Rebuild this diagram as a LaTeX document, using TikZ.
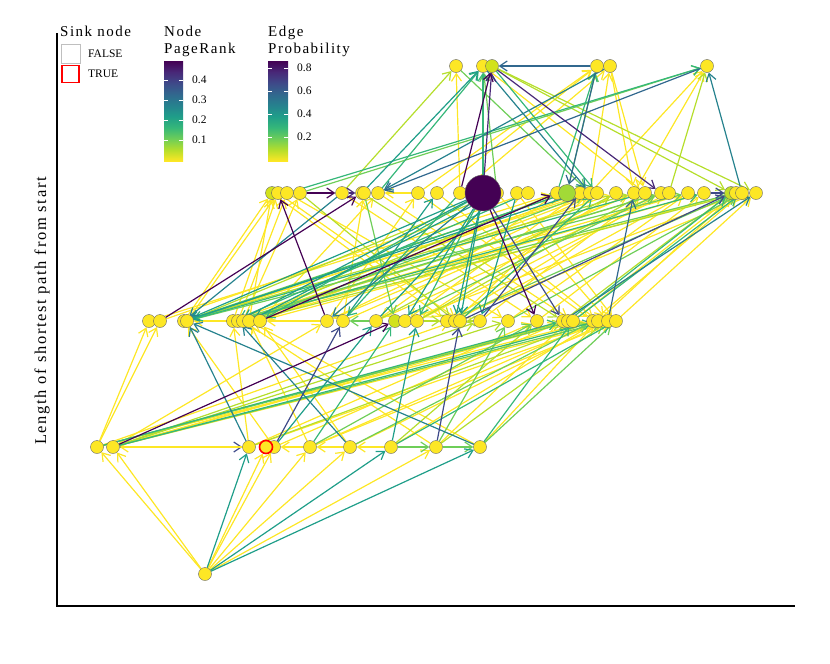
\documentclass[tikz,border=0pt]{standalone}
\usepackage{fontspec}
\setmainfont{Liberation Serif}
\newfontfamily\spacedfont[LetterSpace=10]{Liberation Serif}
\usetikzlibrary{arrows.meta}
\definecolor{vA}{HTML}{440154}
\definecolor{vB}{HTML}{482878}
\definecolor{vC}{HTML}{3E4A89}
\definecolor{vD}{HTML}{31688E}
\definecolor{vE}{HTML}{26828E}
\definecolor{vF}{HTML}{1F9E89}
\definecolor{vG}{HTML}{35B779}
\definecolor{vH}{HTML}{6ECE58}
\definecolor{vI}{HTML}{B5DE2B}
\definecolor{vJ}{HTML}{FDE725}
\definecolor{vK}{HTML}{D2E21B}
\definecolor{vL}{HTML}{A2DA37}
\definecolor{vM}{HTML}{C0DF25}
\pgfdeclareverticalshading{viridis}{100bp}{color(0bp)=(vJ); color(25bp)=(vJ); color(30.56bp)=(vI); color(36.11bp)=(vH); color(41.67bp)=(vG); color(47.22bp)=(vF); color(52.78bp)=(vE); color(58.33bp)=(vD); color(63.89bp)=(vC); color(69.44bp)=(vB); color(75bp)=(vA); color(100bp)=(vA)}
\pgfdeclarelayer{edgelayer}
\pgfsetlayers{edgelayer,main}
\begin{document}
\begin{tikzpicture}[x=1pt,y=-1pt,
    vtx/.style={circle,draw=black!60,line width=0.4pt,fill=vJ,minimum size=13pt,inner sep=0pt},
    link/.style={line width=1.2pt,-{Straight Barb[length=7.5pt,width=10pt]}},
    cbtick/.style={white,line width=0.6pt},
    ttl/.style={anchor=base west,inner sep=0pt,font=\spacedfont\fontsize{15}{18}\selectfont},
    lbl/.style={anchor=west,inner sep=0pt,font=\fontsize{11.5}{13}\selectfont}]
  \useasboundingbox (0,0) rectangle (830,664);
  % axes
  \draw[line width=1.2pt] (57,33) -- (57,606) -- (795,606);
  \node[rotate=90,font=\spacedfont\fontsize{16.5}{19}\selectfont] (ylab) at (42,311) {Length of shortest path from start};
  % nodes
  \node[vtx] (s) at (205,574) {};
  \foreach \n/\x in {a1/97,a2/113,a3/249,a5/274,a6/310,a7/350,a8/391,a9/436,a10/480}
    \node[vtx] (\n) at (\x,447) {};
  \node[vtx,draw=red,line width=1.6pt] (a4) at (266,447) {};
  \foreach \n/\x/\f in {b1/149/vJ,b2/160/vJ,b3/184/vJ,b4/187/vJ,b5/233/vJ,b6/238/vJ,b7/243/vJ,b8/249/vJ,b9/260/vJ,
      b10/327/vJ,b11/343/vJ,b12/376/vJ,b13/395/vK,b14/405/vJ,b15/417/vJ,b16/447/vJ,b17/455/vJ,b18/460/vJ,b19/480/vJ,
      b20/508/vJ,b21/537/vJ,b22/563/vJ,b23/568/vJ,b24/573/vJ,b25/593/vJ,b26/598/vJ,b27/608/vJ,b28/616/vJ}
    \node[vtx,fill=\f] (\n) at (\x,321) {};
  \foreach \n/\x/\f in {c1/272/vK,c2/278/vJ,c3/287/vJ,c4/300/vJ,c5/342/vJ,c6/362/vJ,c7/364/vJ,c8/378/vJ,c9/418/vJ,
      c10/437/vJ,c11/460/vJ,c13/497/vJ,c14/517/vJ,c15/528/vJ,c16/557/vJ,c18/580/vJ,c19/590/vJ,c20/597/vJ,
      c21/616/vJ,c22/634/vJ,c23/645/vJ,c24/661/vJ,c25/669/vJ,c26/688/vJ,c27/704/vJ,c28/731/vM,c29/736/vJ,c30/742/vJ,c31/756/vJ}
    \node[vtx,fill=\f] (\n) at (\x,193) {};
  \node[vtx,fill=vA,minimum size=36pt] (c12) at (483,193) {};
  \node[vtx,fill=vL,minimum size=17pt] (c17) at (567,193) {};
  \foreach \n/\x/\f in {d1/456/vJ,d2/483/vJ,d3/492/vK,d4/597/vJ,d5/610/vJ,d6/707/vJ}
    \node[vtx,fill=\f] (\n) at (\x,66) {};
  % edges, low probability first
  \begin{pgfonlayer}{edgelayer}
  \draw[link,vC] (a2) -- (a3);
  \foreach \u/\v in {s/a1,s/a2,s/a4,s/a5,s/a6,s/a7,s/a9,a3/a2,a6/a5,a7/a6,a8/a7,
      a1/b1,a1/b2,a1/b17,a2/b10,a2/b24,a2/b28,a3/b5,a3/b21,a5/b3,a5/b22,a6/b8,a6/b26,a7/b9,a7/b27,
      a9/b7,a10/b8,a1/b25,a2/b22,a3/b27,a6/b28,a8/b26,a9/b23,a10/b26,b9/b4,b10/b9,
      b3/c1,b4/c2,b5/c2,b6/c3,b7/c4,b8/c1,b9/c8,b10/c9,b11/c7,b5/c18,b6/c21,b7/c26,b8/c27,b9/c29,
      b10/c20,b11/c22,b12/c24,b14/c30,b15/c25,b16/c31,b17/c19,b19/c23,b20/c26,b21/c27,b24/c29,
      b25/c30,b28/c31,b26/c29,b3/c20,b1/c16,b2/c15,b4/c19,
      c1/b16,c2/b18,c3/b20,c5/b21,c8/b24,c9/b25,c10/b26,c13/b27,c14/b28,c16/b12,c18/b14,c21/b15,
      c24/b16,c26/b17,c22/b10,c20/b9,c9/c8,c15/c14,
      c11/d1,c9/d4,c10/d4,c11/d5,c19/d5,c19/d6,c22/d6,d5/c22,d5/c23,d2/c23}
    \draw[link,vJ] (\u) -- (\v);
  \foreach \u/\v in {a1/b23,a2/b19,a3/b25,a9/b27,a8/b21,a2/b20,b15/b16,b19/b18,
      b4/c13,b7/c16,b12/c21,b22/c28,c4/b17,b15/c23,c6/b22,b6/c24,b3/c22,b8/c30,
      c5/d1,d3/c28,d3/c31,c25/d6}
    \draw[link,vI] (\u) -- (\v);
  \foreach \u/\v in {a2/b27,a9/b20,a6/b21,a7/b25,a10/b28,a8/a9,a9/a10,a1/b24,b12/b11,
      b3/c17,b8/c19,b13/c24,b16/c29,c7/b13,b20/c30,b5/c29,b5/c24,b4/c26,
      c13/d2,c4/d6,c17/d4,d1/c19}
    \draw[link,vH] (\u) -- (\v);
  \foreach \u/\v in {a6/b13,a2/b26,a1/b22,a8/b28,a10/b24,
      c15/b5,c17/b4,b23/c28,c11/b11,b18/c20,b4/c23,c19/c17,b24/c30,b6/c27,c12/b9,c12/b15,
      c8/d2,c12/d2,c16/d4,d3/c20,c3/d6}
    \draw[link,vG] (\u) -- (\v);
  \foreach \u/\v in {s/a3,s/a8,s/a10,a5/b12,a8/b15,
      c18/b3,c13/b8,c12/b6,c12/b14,c12/b17,c12/b3,c12/b18,b12/c13,b11/c10,c14/b19,c6/d2}
    \draw[link,vF] (\u) -- (\v);
  \foreach \u/\v in {a10/b4,a3/b4,a7/b6,c12/b10,c5/b3,b22/c31,d2/c19,d5/c8,c30/d6}
    \draw[link,vE] (\u) -- (\v);
  \foreach \u/\v in {b27/c22,d4/d3,d6/c8,d4/c17}
    \draw[link,vD] (\u) -- (\v);
  \foreach \u/\v in {a5/b11,a9/b18,b19/c18,c12/b22,b18/c28,c27/c28}
    \draw[link,vC] (\u) -- (\v);
  \foreach \u/\v in {c5/c6,d3/c24,c12/d3}
    \draw[link,vB] (\u) -- (\v);
  \foreach \u/\v in {a2/b13,b2/c6,b9/c16,b10/c2,c12/b21,c4/c5,c11/d3}
    \draw[link,vA] (\u) -- (\v);
  \end{pgfonlayer}
  % legend: sink node
  \node[ttl] (sinkttl) at (60,36) {Sink node};
  \node[draw=black!25,line width=0.8pt,minimum size=19pt,inner sep=0pt] (keyF) at (70.5,53.5) {};
  \node[draw=red,line width=1.6pt,minimum size=17pt,inner sep=0pt] (keyT) at (70.5,74) {};
  \node[lbl] (txtF) at (88,54) {FALSE};
  \node[lbl] (txtT) at (88,74) {TRUE};
  % legend: node pagerank
  \node[ttl] (prttl1) at (164,36) {Node};
  \node[ttl] (prttl2) at (164,53) {PageRank};
  \shade[shading=viridis] (164,61) rectangle (183,161);
  \foreach \y/\t in {80/0.4,100/0.3,120/0.2,140/0.1}{
    \draw[cbtick] (164,\y) -- ++(4,0) (183,\y) -- ++(-4,0);
    \node[lbl] (pr\y) at (192,\y) {\t};
  }
  % legend: edge probability
  \node[ttl] (epttl1) at (268,36) {Edge};
  \node[ttl] (epttl2) at (268,53) {Probability};
  \shade[shading=viridis] (268,61) rectangle (288,161);
  \foreach \y/\t in {68/0.8,91/0.6,114/0.4,137/0.2}{
    \draw[cbtick] (268,\y) -- ++(4,0) (288,\y) -- ++(-4,0);
    \node[lbl] (ep\y) at (297,\y) {\t};
  }
\end{tikzpicture}
\end{document}
